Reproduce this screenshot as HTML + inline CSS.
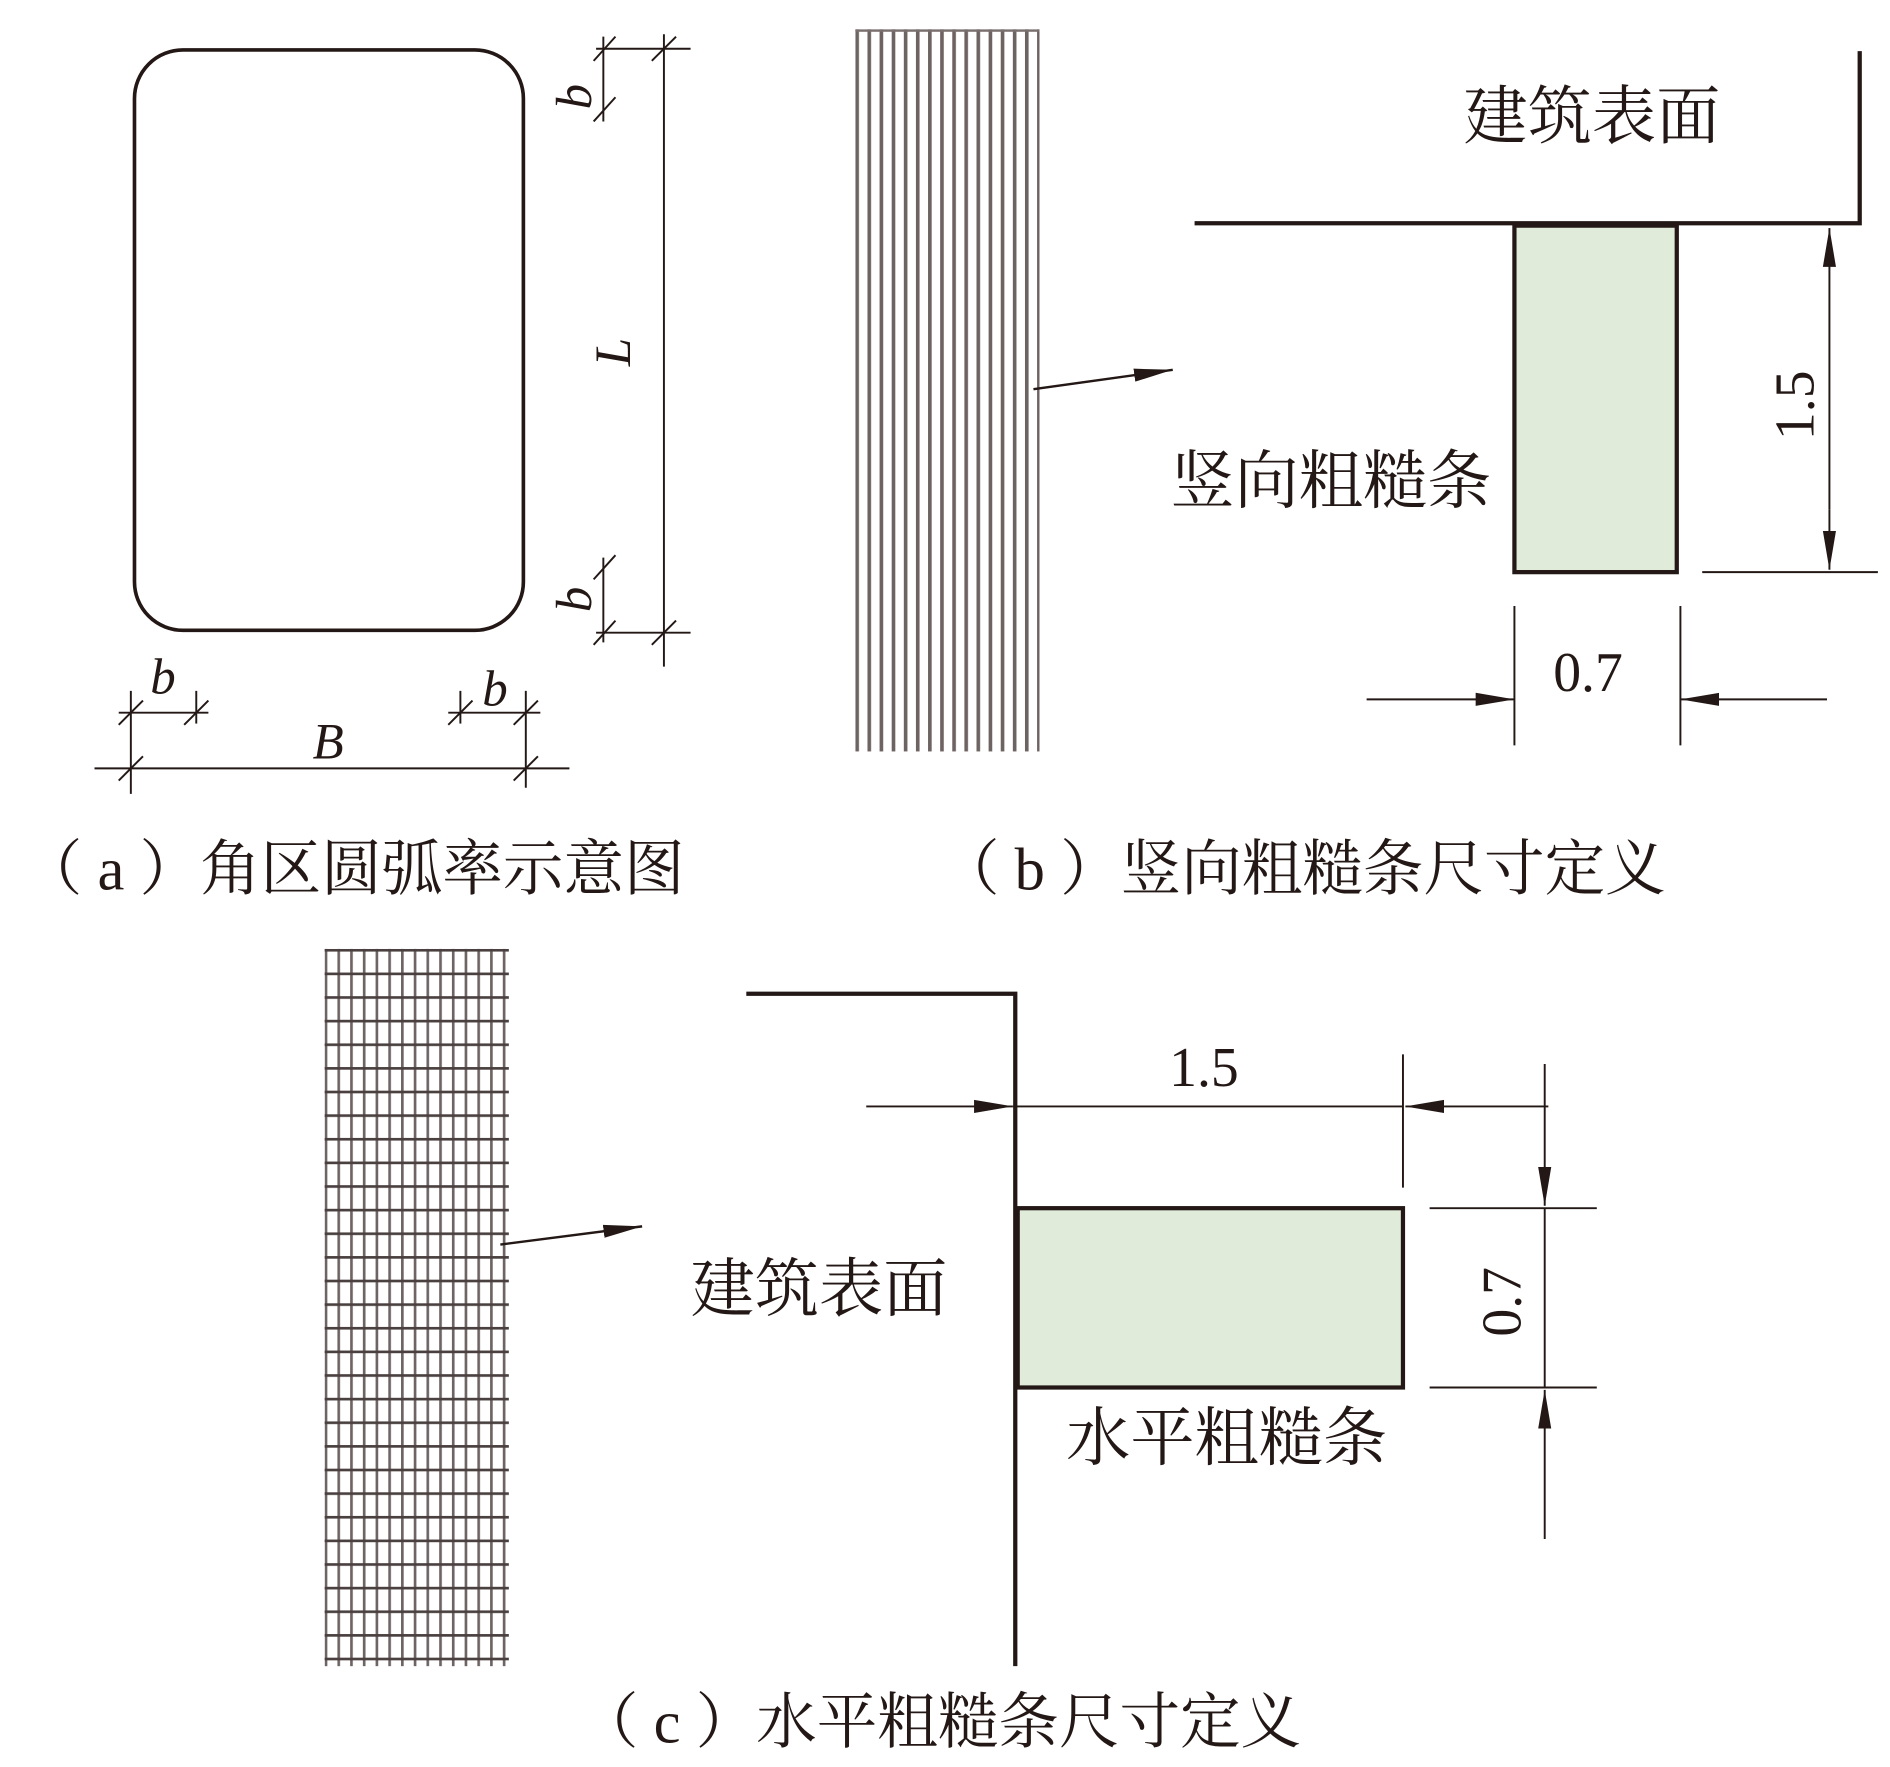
<!DOCTYPE html>
<html><head><meta charset="utf-8"><style>
html,body{margin:0;padding:0;background:#fff;}
svg{display:block;}
text{font-family:"Liberation Serif","Noto Serif CJK SC",serif;fill:#231815;}
</style></head><body>
<svg width="1890" height="1767" viewBox="0 0 1560 1458" xmlns="http://www.w3.org/2000/svg">
<defs>
<pattern id="vs" x="706" y="0" width="10" height="10" patternUnits="userSpaceOnUse">
<rect x="0" y="0" width="3" height="10" fill="#6e6363"/>
</pattern>
<pattern id="gv" x="268" y="0" width="10.5" height="10" patternUnits="userSpaceOnUse">
<rect x="0" y="0" width="2.2" height="10" fill="#6e6464"/>
</pattern>
<pattern id="gh" x="0" y="783" width="10" height="19.5" patternUnits="userSpaceOnUse">
<rect x="0" y="0" width="10" height="2.2" fill="#4a4040"/>
</pattern>
<marker id="ar" viewBox="0 0 10 10" refX="10" refY="5" markerWidth="32" markerHeight="12" markerUnits="userSpaceOnUse" orient="auto" preserveAspectRatio="none">
<path d="M0,0.5 L10,5 L0,9.5 Z" fill="#231815"/>
</marker>
</defs>
<g stroke="#231815" fill="none">
<rect x="111" y="41" width="321" height="479" rx="40" stroke-width="3"/>
<g stroke-width="1.6">
<line x1="548" y1="28" x2="548" y2="550"/>
<line x1="492" y1="40" x2="570" y2="40"/>
<line x1="492" y1="522" x2="570" y2="522"/>
<line x1="538" y1="50" x2="558" y2="30"/>
<line x1="538" y1="532" x2="558" y2="512"/>
<line x1="490" y1="100" x2="508" y2="80"/>
<line x1="490" y1="50" x2="508" y2="30"/>
<line x1="490" y1="478" x2="508" y2="458"/>
<line x1="490" y1="532" x2="508" y2="512"/>
<line x1="498" y1="30" x2="498" y2="100"/>
<line x1="498" y1="460" x2="498" y2="530"/>
<line x1="78" y1="634" x2="470" y2="634"/>
<line x1="108" y1="570" x2="108" y2="655"/>
<line x1="434" y1="570" x2="434" y2="650"/>
<line x1="98" y1="644" x2="118" y2="624"/>
<line x1="424" y1="644" x2="444" y2="624"/>
<line x1="98" y1="588" x2="172" y2="588"/>
<line x1="162" y1="570" x2="162" y2="597"/>
<line x1="98" y1="598" x2="118" y2="578"/>
<line x1="152" y1="598" x2="172" y2="578"/>
<line x1="370" y1="588" x2="446" y2="588"/>
<line x1="380" y1="570" x2="380" y2="597"/>
<line x1="370" y1="598" x2="390" y2="578"/>
<line x1="424" y1="598" x2="444" y2="578"/>
</g>
</g>
<g font-style="italic" font-size="42">
<text x="124" y="572">b</text>
<text x="398" y="582">b</text>
<text x="258" y="626">B</text>
<text transform="translate(520,302) rotate(-90)">L</text>
<text transform="translate(488,90) rotate(-90)">b</text>
<text transform="translate(488,505) rotate(-90)">b</text>
</g>
<text x="18" y="734" font-size="50">（ a ）角区圆弧率示意图</text>

<rect x="706" y="24" width="152" height="596" fill="url(#vs)"/>
<rect x="706" y="24" width="152" height="2" fill="#7a6f6f"/>
<g stroke="#231815" fill="none">
<line x1="853" y1="321" x2="968" y2="305" stroke-width="2" marker-end="url(#ar)"/>
<polyline points="986,184 1535,184 1535,42" stroke-width="3.5"/>
<rect x="1250" y="186" width="134" height="286" fill="#e0ebd9" stroke-width="3.5"/>
<g stroke-width="1.6">
<line x1="1510" y1="240" x2="1510" y2="188" marker-end="url(#ar)"/>
<line x1="1510" y1="420" x2="1510" y2="470" marker-end="url(#ar)"/>
<line x1="1510" y1="240" x2="1510" y2="420"/>
<line x1="1405" y1="472" x2="1550" y2="472"/>
<line x1="1250" y1="500" x2="1250" y2="615"/>
<line x1="1387" y1="500" x2="1387" y2="615"/>
<line x1="1128" y1="577" x2="1250" y2="577" marker-end="url(#ar)"/>
<line x1="1508" y1="577" x2="1387" y2="577" marker-end="url(#ar)"/>
</g>
</g>
<text x="1208" y="114" font-size="53">建筑表面</text>
<text x="966" y="415" font-size="53">竖向粗糙条</text>
<text transform="translate(1497,363) rotate(-90)" font-size="46">1.5</text>
<text x="1282" y="570" font-size="46">0.7</text>
<text x="775" y="734" font-size="50">（ b ）竖向粗糙条尺寸定义</text>

<rect x="268" y="783" width="152" height="592" fill="url(#gv)"/>
<rect x="268" y="783" width="152" height="592" fill="url(#gh)"/>
<g stroke="#231815" fill="none">
<line x1="413" y1="1027" x2="530" y2="1012" stroke-width="2" marker-end="url(#ar)"/>
<polyline points="616,820 838,820 838,1375" stroke-width="3.5"/>
<rect x="840" y="997" width="318" height="148" fill="#e0ebd9" stroke-width="3.5"/>
<g stroke-width="1.6">
<line x1="715" y1="913" x2="836" y2="913" marker-end="url(#ar)"/>
<line x1="836" y1="913" x2="1158" y2="913"/>
<line x1="1278" y1="913" x2="1160" y2="913" marker-end="url(#ar)"/>
<line x1="1158" y1="870" x2="1158" y2="980"/>
<line x1="1275" y1="878" x2="1275" y2="995" marker-end="url(#ar)"/>
<line x1="1275" y1="1270" x2="1275" y2="1147" marker-end="url(#ar)"/>
<line x1="1180" y1="997" x2="1318" y2="997"/>
<line x1="1180" y1="1145" x2="1318" y2="1145"/>
<line x1="1275" y1="997" x2="1275" y2="1145"/>
</g>
</g>
<text x="965" y="896" font-size="46">1.5</text>
<text transform="translate(1255,1103) rotate(-90)" font-size="46">0.7</text>
<text x="570" y="1082" font-size="53">建筑表面</text>
<text x="880" y="1205" font-size="53">水平粗糙条</text>
<text x="477" y="1438" font-size="50">（ c ）水平粗糙条尺寸定义</text>
</svg>
</body></html>
